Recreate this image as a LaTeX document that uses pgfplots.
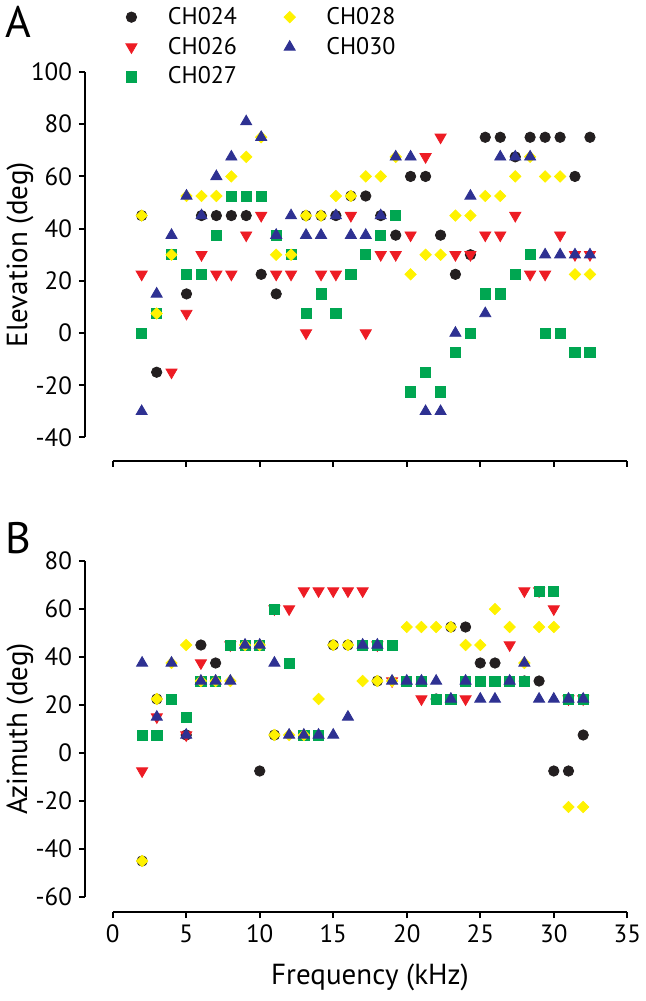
\documentclass[border=0pt]{standalone}
\usepackage{fontspec}
\setmainfont{PT Sans}
\usepackage{pgfplots}
\usepackage{pgfplotstable}
\pgfplotsset{compat=1.18}

\definecolor{cblack}{HTML}{231F20}
\definecolor{cred}{HTML}{ED1C24}
\definecolor{cgreen}{HTML}{00A651}
\definecolor{cyellow}{HTML}{FFF200}
\definecolor{cblue}{HTML}{2E3192}

% Panel A: elevation (columns sit slightly right of integer kHz in the figure)
\pgfplotstableread{
x y
1.97 45
2.99 -15
5.02 15
6.04 45
7.05 45
8.07 45
9.08 45
10.10 22.5
11.12 15
13.15 45
14.17 45
15.18 45
16.20 52.5
17.21 52.5
18.23 45
19.25 37.5
20.26 60
21.28 60
22.30 37.5
23.31 22.5
24.33 30
25.34 75
26.36 75
27.38 67.5
28.39 75
29.41 75
30.43 75
31.44 60
32.46 75
}\elevA

\pgfplotstableread{
x y
1.97 22.5
4.00 -15
5.02 7.5
6.04 30
7.05 22.5
8.07 22.5
9.08 37.5
10.10 45
11.12 22.5
12.13 22.5
13.15 0
14.17 22.5
15.18 22.5
16.20 45
17.21 0
18.23 30
19.25 30
20.26 37.5
21.28 67.5
22.30 75
23.31 30
24.33 30
25.34 37.5
26.36 37.5
27.38 45
28.39 22.5
29.41 22.5
30.43 37.5
31.44 30
32.46 30
}\elevB

\pgfplotstableread{
x y
1.97 0
2.99 7.5
4.00 30
5.02 22.5
6.04 22.5
7.05 37.5
8.07 52.5
9.08 52.5
10.10 52.5
11.12 37.5
12.13 30
13.15 7.5
14.17 15
15.18 7.5
16.20 22.5
17.21 30
18.23 37.5
19.25 45
20.26 -22.5
21.28 -15
22.30 -22.5
23.31 -7.5
24.33 0
25.34 15
26.36 15
27.38 22.5
28.39 30
29.41 0
30.43 0
31.44 -7.5
32.46 -7.5
}\elevC

\pgfplotstableread{
x y
1.97 45
2.99 7.5
4.00 30
5.02 52.5
6.04 52.5
7.05 52.5
8.07 60
9.08 67.5
10.10 75
11.12 30
12.13 30
13.15 45
14.17 45
15.18 52.5
16.20 52.5
17.21 60
18.23 60
19.25 67.5
20.26 22.5
21.28 30
22.30 30
23.31 45
24.33 45
25.34 52.5
26.36 52.5
27.38 60
28.39 67.5
29.41 60
30.43 60
31.44 22.5
32.46 22.5
}\elevD

\pgfplotstableread{
x y
1.97 -30
2.99 15
4.00 37.5
5.02 52.5
6.04 45
7.05 60
8.07 67.5
9.08 81
10.10 75
11.12 37.5
12.13 45
13.15 37.5
14.17 37.5
15.18 45
16.20 37.5
17.21 37.5
18.23 45
19.25 67.5
20.26 67.5
21.28 -30
22.30 -30
23.31 0
24.33 52.5
25.34 7.5
26.36 67.5
27.38 67.5
28.39 67.5
29.41 30
30.43 30
31.44 30
32.46 30
}\elevE

% Panel B: azimuth
\pgfplotstableread{
x y
2 -45
3 22.5
5 7.5
6 45
7 37.5
10 -7.5
11 7.5
15 45
16 45
18 30
22 22.5
23 52.5
24 52.5
25 37.5
26 37.5
28 30
29 30
30 -7.5
31 -7.5
32 7.5
}\aziA

\pgfplotstableread{
x y
2 -7.5
3 15
5 7.5
6 37.5
8 45
11 60
12 60
13 67.5
14 67.5
15 67.5
16 67.5
17 67.5
18 45
19 30
21 22.5
24 22.5
27 45
28 67.5
29 67.5
30 60
31 22.5
32 22.5
}\aziB

\pgfplotstableread{
x y
2 7.5
3 7.5
4 22.5
5 15
6 30
7 30
8 45
9 45
10 45
11 60
12 37.5
13 7.5
14 7.5
17 45
18 45
19 45
20 30
21 30
22 22.5
23 22.5
24 30
25 30
26 30
27 30
28 30
29 67.5
30 67.5
31 22.5
32 22.5
}\aziC

\pgfplotstableread{
x y
2 -45
3 22.5
4 37.5
5 45
6 30
7 30
8 30
9 45
10 45
11 7.5
12 7.5
13 7.5
14 22.5
15 45
16 45
17 30
18 30
19 30
20 52.5
21 52.5
22 52.5
23 52.5
24 45
25 45
26 60
27 52.5
28 37.5
29 52.5
30 52.5
31 -22.5
32 -22.5
}\aziD

\pgfplotstableread{
x y
2 37.5
3 15
4 37.5
5 7.5
6 30
7 30
8 30
9 45
10 45
11 37.5
12 7.5
13 7.5
14 7.5
15 7.5
16 15
17 45
18 45
19 30
20 30
21 30
22 30
23 22.5
24 30
25 22.5
26 22.5
27 30
28 37.5
29 22.5
30 22.5
31 22.5
32 22.5
}\aziE

\pgfplotsset{
  panel/.style={
    scale only axis,
    width=257.3pt,
    xmin=0, xmax=35,
    xtick={0,5,...,35},
    axis x line*=bottom,
    axis y line*=left,
    axis y line shift=13.85pt,
    tick align=outside,
    major tick length=3pt,
    axis line style={line width=1pt, black},
    tick style={line width=1pt, black},
    tick label style={font=\fontsize{12.5}{14}\selectfont},
    label style={font=\fontsize{14.5}{17}\selectfont},
    clip=false,
  },
  s24/.style={only marks, mark=*, mark size=2.6pt, color=cblack},
  s26/.style={only marks, mark=triangle*, mark size=3.2pt, color=cred, mark options={rotate=180}},
  s27/.style={only marks, mark=square*, mark size=2.55pt, color=cgreen},
  s28/.style={only marks, mark=square*, mark size=2pt, color=cyellow, mark options={rotate=45}},
  s30/.style={only marks, mark=triangle*, mark size=3.2pt, color=cblue},
}

\begin{document}
\begin{tikzpicture}
\path[use as bounding box] (0,0) rectangle (322.5pt,500.5pt);

\begin{axis}[panel,
  at={(56.35pt,281.75pt)}, anchor=south west,
  height=182.75pt,
  ymin=-40, ymax=100,
  ytick={-40,-20,0,20,40,60,80,100},
  yticklabels={-40,-20,0,20,40,60,80,100},
  xticklabels={},
  axis x line shift=11.75pt,
  ylabel={Elevation (deg)},
  ylabel style={at={(axis description cs:-0.180,0.5)}, anchor=center},
  legend columns=3, transpose legend,
  legend style={at={(axis description cs:0.021,1.195)}, anchor=north west,
    draw=none, fill=none, font=\fontsize{12}{14}\selectfont,
    column sep=21.5pt, row sep=0.9pt, inner sep=1pt},
]
\addplot[s24] table {\elevA}; \addlegendentry{\hspace{-8pt}CH024}
\addplot[s26] table {\elevB}; \addlegendentry{\hspace{-8pt}CH026}
\addplot[s27] table {\elevC}; \addlegendentry{\hspace{-8pt}CH027}
\addplot[s28] table {\elevD}; \addlegendentry{\hspace{-8pt}CH028}
\addplot[s30] table {\elevE}; \addlegendentry{\hspace{-8pt}CH030}
\end{axis}

\begin{axis}[panel,
  at={(56.35pt,52pt)}, anchor=south west,
  height=168pt,
  ymin=-60, ymax=80,
  ytick={-60,-40,-20,0,20,40,60,80},
  yticklabels={-60,-40,-20,0,20,40,60,80},
  xticklabels={0,5,10,15,20,25,30,35},
  axis x line shift=7.5pt,
  xlabel={Frequency (kHz)},
  xlabel style={at={(axis description cs:0.5,-0.238)}, anchor=center},
  ylabel={Azimuth (deg)},
  ylabel style={at={(axis description cs:-0.180,0.5)}, anchor=center},
]
\addplot[s24] table {\aziA};
\addplot[s26] table {\aziB};
\addplot[s27] table {\aziC};
\addplot[s28] table {\aziD};
\addplot[s30] table {\aziE};
\end{axis}

\node[font=\fontsize{22}{24}\selectfont] at (9pt,489.5pt) {A};
\node[font=\fontsize{22}{24}\selectfont] at (9pt,231.5pt) {B};
\end{tikzpicture}
\end{document}
